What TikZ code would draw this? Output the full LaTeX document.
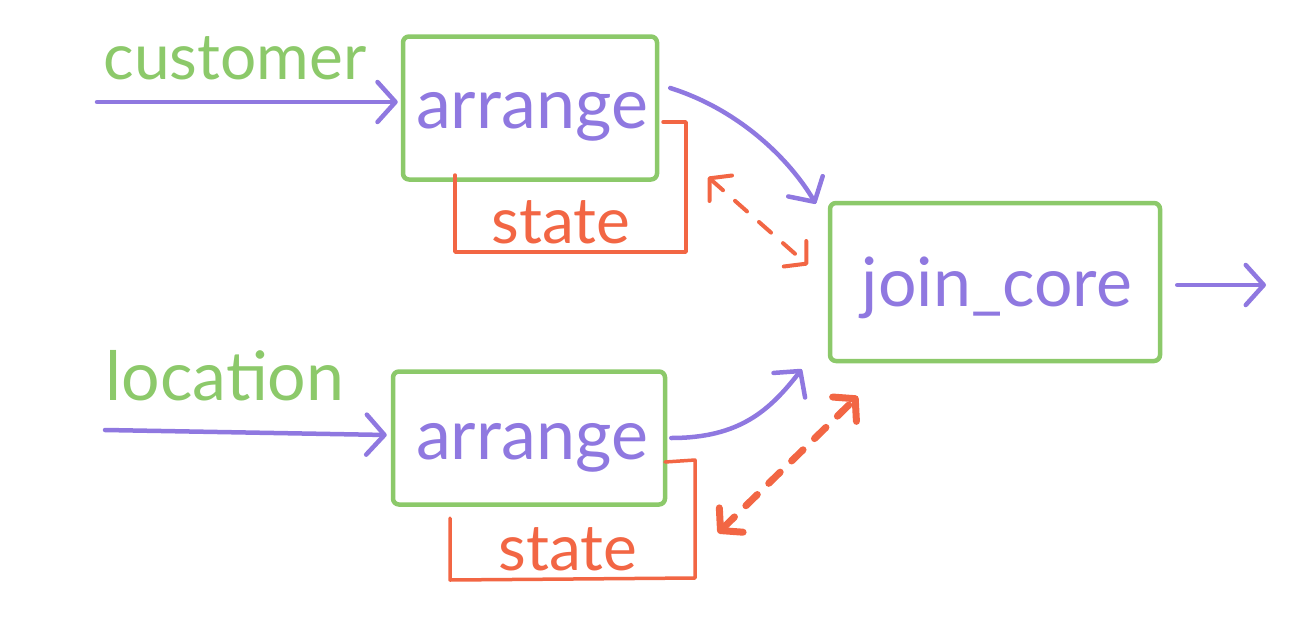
\documentclass[tikz,border=0pt]{standalone}
\usepackage{fontspec}
\setmainfont{Lato}
\usetikzlibrary{arrows.meta,calc}
\definecolor{hgreen}{HTML}{8CC96A}
\definecolor{hpurple}{HTML}{8F78E0}
\definecolor{horange}{HTML}{F26644}
\begin{document}
\begin{tikzpicture}[x=1pt,y=-1pt,
  gbox/.style={draw=hgreen,line width=4.5pt,rounded corners=6pt,inner sep=0pt},
  ptext/.style={text=hpurple,font=\fontsize{70}{70}\selectfont},
  gtext/.style={text=hgreen,font=\fontsize{64}{64}\selectfont},
  otext/.style={text=horange,font=\fontsize{64}{64}\selectfont},
  parrow/.style={draw=hpurple,line width=4.5pt,line cap=round,
    -{Straight Barb[length=18pt,width=40pt,line width=4.5pt,round]}},
  obrack/.style={draw=horange,line width=3.5pt,line join=round,line cap=round},
  odash/.style={draw=horange,line cap=round,dash pattern=on 16pt off 16pt,
    {Straight Barb[length=15pt,width=34pt,round]}-{Straight Barb[length=15pt,width=34pt,round]}}
]
\useasboundingbox (0,0) rectangle (1302,632);
% labels
\node[gtext] (cust) at (235,58) {customer};
\node[gtext,font=\fontsize{68}{68}\selectfont] (loc) at (225,376) {location};
% arrange boxes
\node[gbox,minimum width=254pt,minimum height=143pt] (arr1) at (530,108) {};
\node[ptext] (arr1t) at (532,117) {arrange};
\node[gbox,minimum width=272pt,minimum height=133pt] (arr2) at (529,438) {};
\node[ptext] (arr2t) at (532,448) {arrange};
% state boxes
\node[otext] (st1) at (561,222) {state};
\node[otext] (st2) at (568,549) {state};
\coordinate (s1a) at (455,175);
\coordinate (s1b) at (455,252);
\coordinate (s1c) at (686,252);
\coordinate (s1d) at (686,122);
\coordinate (s1e) at (663,122);
\draw[obrack] (s1a) -- (s1b) -- (s1c) -- (s1d) -- (s1e);
\coordinate (s2a) at (450,518);
\coordinate (s2b) at (450,580);
\coordinate (s2c) at (695,578);
\coordinate (s2d) at (695,460);
\coordinate (s2e) at (665,462);
\draw[obrack] (s2a) -- (s2b) -- (s2c) -- (s2d) -- (s2e);
% join core
\node[gbox,minimum width=330pt,minimum height=158pt] (join) at (995,282) {};
\node[ptext,font=\fontsize{68}{68}\selectfont] (joint) at (997,288) {join\_core};
% inputs
\coordinate (in1) at (97,102);
\coordinate (in2) at (105,430);
\draw[parrow] (in1) -- ($(arr1.west)+(-3,-6)$);
\draw[parrow] (in2) -- ($(arr2.west)+(-4,-3)$);
% to join
\draw[parrow] ($(arr1.east)+(11,-20)$) .. controls (740,110) and (790,160) .. ($(join.north west)+(-12,3)$);
\draw[parrow] ($(arr2.east)+(4,0)$) .. controls (740,438) and (770,410) .. ($(join.south west)+(-26,6)$);
% output
\coordinate (out) at (1266,285);
\draw[parrow] ($(join.east)+(15,3)$) -- (out);
% state dashed arrows
\draw[odash,line width=4pt] ($(s1d)+(22,55)$) -- ($(join.west)+(-20,-17)$);
\draw[odash,line width=7pt] ($(s2c)+(23,-45)$) -- ($(join.south west)+(30,33)$);
\end{tikzpicture}
\end{document}
